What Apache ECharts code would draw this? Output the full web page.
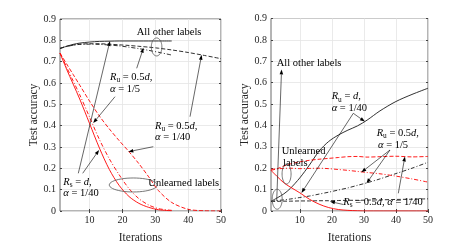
<!DOCTYPE html>
<html><head><meta charset="utf-8">
<script src="https://cdn.jsdelivr.net/npm/echarts@6/dist/echarts.min.js"></script>
<style>html,body{margin:0;padding:0;background:#fff}#c{width:474px;height:249px}</style>
</head><body><div id="c"></div>
<script>
// ---------- data ----------
const xTicks = [10, 20, 30, 40, 50];
const xL35 = [1,3,5,7,10,13,16,19,22,25,28,31,35];
const xL50 = [1,3,5,7,10,13,16,19,22,25,28,31,35,40,45,50];
const xR   = [1,3,5,7,10,13,16,19,22,25,28,31,35,40,45,50];

// left panel
const L_blackSolid   = [0.762,0.772,0.781,0.787,0.792,0.795,0.796,0.797,0.797,0.797,0.797,0.797,0.797];
const L_blackDashDot = [0.762,0.771,0.777,0.781,0.782,0.781,0.778,0.774,0.768,0.761,0.753,0.744,0.731];
const L_blackDashed  = [0.762,0.772,0.778,0.782,0.784,0.784,0.782,0.779,0.776,0.772,0.768,0.763,0.755,0.743,0.729,0.714];
const L_redSolid     = [0.74,0.665,0.595,0.525,0.41,0.295,0.195,0.12,0.068,0.036,0.017,0.006,0.001];
const L_redDashDot   = [0.74,0.675,0.61,0.545,0.44,0.335,0.245,0.17,0.105,0.058,0.028,0.011,0.003];
const L_redDashed    = [0.74,0.69,0.64,0.59,0.515,0.445,0.385,0.33,0.278,0.222,0.16,0.095,0.04,0.008,0.001,0];

// right panel
const R_blackSolid   = [0.045,0.062,0.08,0.105,0.155,0.215,0.28,0.325,0.355,0.378,0.398,0.425,0.468,0.512,0.545,0.574];
const R_blackDashDot = [0.045,0.049,0.052,0.056,0.063,0.07,0.079,0.088,0.098,0.108,0.12,0.132,0.15,0.175,0.2,0.228];
const R_blackDashed  = [0.045,0.045,0.046,0.046,0.047,0.047,0.048,0.048,0.049,0.05,0.05,0.051,0.052,0.054,0.055,0.057];
const R_redSolid     = [0.19,0.16,0.132,0.112,0.085,0.055,0.032,0.016,0.007,0.003,0.001,0,0,0,0,0];
const R_redDashDot   = [0.195,0.197,0.199,0.2,0.198,0.199,0.2,0.198,0.194,0.19,0.185,0.18,0.174,0.163,0.15,0.135];
const R_redDashed    = [0.19,0.198,0.21,0.22,0.23,0.237,0.242,0.246,0.25,0.254,0.255,0.252,0.254,0.256,0.253,0.255];

// ---------- styles ----------
const FONT = '"Liberation Serif", "DejaVu Serif", serif';
const RED = '#ff0000', BLK = '#1a1a1a';
const DASH = [4, 2], DASHDOT = [4, 2, 1, 2];

function mk(xs, ys, grid, color, type) {
  return {
    type: 'line', xAxisIndex: grid * 2, yAxisIndex: grid * 2,
    data: xs.map((x, i) => [x, ys[i]]),
    showSymbol: false, smooth: 0.3, silent: true,
    lineStyle: { color, width: 0.9, type }, z: 3
  };
}

const grids = [
  { left: 60, top: 19, width: 161, height: 202, show: true, borderColor: '#444', borderWidth: 0.8 },
  { left: 271, top: 18.5, width: 157, height: 202.2, show: true, borderColor: '#444', borderWidth: 0.8 }
];

function xAxes(g) {
  return [
    { type: 'value', gridIndex: g, min: 1, max: 50, position: 'bottom',
      name: 'Iterations', nameLocation: 'middle', nameGap: 21,
      nameTextStyle: { fontFamily: FONT, fontSize: 11.5, color: '#262626' },
      axisLine: { show: false },
      axisTick: { inside: true, length: 2, customValues: xTicks, lineStyle: { color: '#444' } },
      axisLabel: { customValues: xTicks, fontFamily: FONT, fontSize: 10, color: '#262626', margin: 4 },
      splitLine: { show: true, lineStyle: { color: '#e4e4e4', width: 0.8 } } },
    { type: 'value', gridIndex: g, min: 1, max: 50, position: 'top',
      axisLine: { show: false },
      axisTick: { inside: true, length: 2, customValues: xTicks, lineStyle: { color: '#444' } },
      axisLabel: { show: false }, splitLine: { show: false } }
  ];
}
function yAxes(g) {
  return [
    { type: 'value', gridIndex: g, min: 0, max: 0.9, interval: 0.1, position: 'left',
      name: 'Test accuracy', nameLocation: 'middle', nameGap: 19, nameRotate: 90,
      nameTextStyle: { fontFamily: FONT, fontSize: 11.5, color: '#262626' },
      axisLine: { show: false },
      axisTick: { inside: true, length: 2, lineStyle: { color: '#444' } },
      axisLabel: { fontFamily: FONT, fontSize: 10, color: '#262626', margin: 4,
        formatter: v => String(Math.round(v * 10) / 10) },
      splitLine: { show: true, lineStyle: { color: '#e4e4e4', width: 0.8 } } },
    { type: 'value', gridIndex: g, min: 0, max: 0.9, interval: 0.1, position: 'right',
      axisLine: { show: false },
      axisTick: { inside: true, length: 2, lineStyle: { color: '#444' } },
      axisLabel: { show: false }, splitLine: { show: false } }
  ];
}

const chart = echarts.init(document.getElementById('c'), null, { renderer: 'canvas' });
chart.setOption({
  animation: false,
  backgroundColor: '#fff',
  grid: grids,
  xAxis: [...xAxes(0), ...xAxes(1)],
  yAxis: [...yAxes(0), ...yAxes(1)],
  series: [
    mk(xL35, L_blackSolid, 0, BLK, 'solid'),
    mk(xL35, L_blackDashDot, 0, BLK, DASHDOT),
    mk(xL50, L_blackDashed, 0, BLK, DASH),
    mk(xL35, L_redSolid, 0, RED, 'solid'),
    mk(xL35, L_redDashDot, 0, RED, DASHDOT),
    mk(xL50, L_redDashed, 0, RED, DASH),
    mk(xR, R_blackSolid, 1, BLK, 'solid'),
    mk(xR, R_blackDashDot, 1, BLK, DASHDOT),
    mk(xR, R_blackDashed, 1, BLK, DASH),
    mk(xR, R_redSolid, 1, RED, 'solid'),
    mk(xR, R_redDashDot, 1, RED, DASHDOT),
    mk(xR, R_redDashed, 1, RED, DASH)
  ]
});

// ---------- annotations ----------
const cv = document.createElement('canvas').getContext('2d');
function mathText(x, cy, parts, size) {
  size = size || 10.5;
  let cx = x; const els = [];
  parts.forEach(p => {
    const fs = p.sub ? size * 0.7 : size;
    const font = (p.it ? 'italic ' : '') + fs + 'px ' + FONT;
    cv.font = font;
    const w = cv.measureText(p.t).width;
    els.push({ type: 'text', x: cx, y: cy + (p.sub ? size * 0.3 : 0), z: 10,
      style: { text: p.t, font, fill: '#000', align: 'left', verticalAlign: 'middle' } });
    cx += w;
  });
  return els;
}
function toPx(g, p) { return chart.convertToPixel({ gridIndex: g }, p); }
function arrow(tail, tip) {
  const dx = tip[0] - tail[0], dy = tip[1] - tail[1];
  const L = Math.hypot(dx, dy), ux = dx / L, uy = dy / L;
  const hl = 5, hw = 1.8;
  const bx = tip[0] - ux * hl, by = tip[1] - uy * hl;
  return [
    { type: 'line', z: 10, shape: { x1: tail[0], y1: tail[1], x2: bx, y2: by }, style: { stroke: '#000', lineWidth: 0.6 } },
    { type: 'polygon', z: 10, shape: { points: [tip, [bx - uy * hw, by + ux * hw], [bx + uy * hw, by - ux * hw]] }, style: { fill: '#000' } }
  ];
}
function ellipse(c, rx, ry) {
  const pts = [];
  for (let i = 0; i < 48; i++) { const a = i / 48 * Math.PI * 2; pts.push([c[0] + rx * Math.cos(a), c[1] + ry * Math.sin(a)]); }
  return { type: 'polygon', z: 10, shape: { points: pts }, style: { fill: 'none', stroke: '#555', lineWidth: 0.8 } };
}

const Ru05 = [{t:'R',it:1},{t:'u',sub:1},{t:' = 0.5'},{t:'d',it:1},{t:','}];
const Rsd  = [{t:'R',it:1},{t:'s',sub:1},{t:' = '},{t:'d',it:1},{t:','}];
const Rud  = [{t:'R',it:1},{t:'u',sub:1},{t:' = '},{t:'d',it:1},{t:','}];
const a5   = [{t:'α',it:1},{t:' = 1/5'}];
const a40  = [{t:'α',it:1},{t:' = 1/40'}];
const Rs05a40 = [{t:'R',it:1},{t:'s',sub:1},{t:' = 0.5'},{t:'d',it:1},{t:', '},{t:'α',it:1},{t:' = 1/40'}];

const G = [];
// left panel
G.push(...mathText(136.7, 32.3, [{t:'All other labels'}]));
G.push(ellipse(toPx(0, [30.4, 0.769]), 5.3, 9));
G.push(...mathText(148.3, 183.3, [{t:'Unlearned labels'}]));
G.push(ellipse(toPx(0, [23.3, 0.122]), 24, 7));
G.push(...mathText(110, 77.3, Ru05), ...mathText(110, 88.8, a5));
G.push(...arrow([136.7, 68.3], toPx(0, [26.4, 0.765])));
G.push(...arrow([115, 96.7], toPx(0, [11.1, 0.412])));
G.push(...mathText(155, 126, Ru05), ...mathText(155, 137.3, a40));
G.push(...arrow([190, 116.7], toPx(0, [44.1, 0.732])));
G.push(...arrow([153.3, 146.7], toPx(0, [21.8, 0.278])));
G.push(...mathText(63.3, 182.3, Rsd), ...mathText(63.3, 193.6, a40));
G.push(...arrow([78.3, 173.3], toPx(0, [16.2, 0.797])));
G.push(...arrow([82.7, 173.3], toPx(0, [12.9, 0.286])));
// right panel
G.push(...mathText(276.7, 63.3, [{t:'All other labels'}]));
G.push(...arrow([276.7, 201], toPx(1, [4.3, 0.662])));
G.push(ellipse(toPx(1, [2.93, 0.055]), 5, 10));
G.push(ellipse(toPx(1, [5.86, 0.173]), 4.5, 10));
G.push(...mathText(281.7, 151.7, [{t:'Unlearned'}]), ...mathText(283, 163.3, [{t:'labels'}]));
G.push(...mathText(331.7, 96.7, Rud), ...mathText(331.7, 107.8, a40));
G.push(...arrow([353.3, 113.3], toPx(1, [30.3, 0.418])));
G.push(...arrow([353.3, 113.3], toPx(1, [10.5, 0.084])));
G.push(...mathText(376.7, 133.3, Ru05), ...mathText(378, 145, a5));
G.push(...arrow([390, 150], toPx(1, [29.2, 0.181])));
G.push(...arrow([390, 150], toPx(1, [30.8, 0.129])));
G.push(...mathText(343.3, 202.3, Rs05a40));
G.push(...arrow([343.3, 204.5], toPx(1, [19.4, 0.0445])));
G.push(...arrow([398.3, 193.3], toPx(1, [42.8, 0.255])));

chart.setOption({ graphic: G });
</script>
</body></html>
